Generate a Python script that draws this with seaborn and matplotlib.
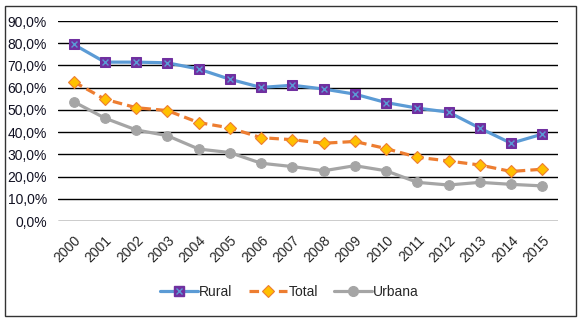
import numpy as np
import pandas as pd
import matplotlib
matplotlib.use("Agg")
import matplotlib.pyplot as plt
import seaborn as sns
from matplotlib.lines import Line2D
from matplotlib.legend_handler import HandlerTuple
from matplotlib.patches import Rectangle

years = [str(y) for y in range(2000, 2016)]
rural = [79.5, 71.5, 71.5, 71.2, 68.4, 63.8, 60.1, 61.1, 59.4, 57.1, 53.3, 50.8, 49.0, 41.8, 35.0, 39.1]
total = [62.7, 54.8, 51.0, 49.7, 44.3, 41.9, 37.5, 36.6, 35.0, 35.8, 32.6, 28.7, 27.0, 25.2, 22.3, 23.3]
urbana = [53.7, 46.3, 41.0, 38.4, 32.4, 30.8, 26.0, 24.5, 22.6, 24.9, 22.6, 17.4, 16.2, 17.4, 16.5, 15.8]

df = pd.DataFrame({"idx": np.arange(len(years)), "Rural": rural, "Total": total, "Urbana": urbana})

sns.set_style("white")
plt.rcParams["font.family"] = ["Liberation Sans", "DejaVu Sans"]

fig = plt.figure(figsize=(5.83, 3.21), dpi=100)
ax = fig.add_axes([0.0995, 0.3115, 0.8575, 0.623])

c_rural = "#5B9BD5"
c_total = "#ED7D31"
c_urb = "#A5A5A5"

sns.lineplot(data=df, x="idx", y="Rural", ax=ax, color=c_rural, lw=2.3,
             marker="s", markersize=6.5, markerfacecolor="#7030A0", markeredgecolor="#7030A0", zorder=5)
sns.scatterplot(data=df, x="idx", y="Rural", ax=ax, marker="x", s=18, color=c_rural,
                linewidth=1.0, zorder=6)
sns.lineplot(data=df, x="idx", y="Total", ax=ax, color=c_total, lw=2.3, linestyle=(0, (3, 1.6)),
             marker="D", markersize=6, markerfacecolor="#FFC000", markeredgecolor=c_total,
             markeredgewidth=0.8, zorder=4)
sns.lineplot(data=df, x="idx", y="Urbana", ax=ax, color=c_urb, lw=2.3,
             marker="o", markersize=7, markerfacecolor=c_urb, markeredgecolor=c_urb, zorder=3)

ax.set_xlim(-0.5, len(years) - 0.5)
ax.set_ylim(0, 90)
ax.set_yticks(np.arange(0, 91, 10))
ax.set_yticklabels([f"{v:.1f}%".replace(".", ",") for v in np.arange(0, 91, 10)], fontsize=10, color="#111122")
ax.set_xticks(df["idx"])
ax.set_xticklabels(years, rotation=45, ha="right", rotation_mode="anchor", fontsize=10)
ax.tick_params(axis="both", length=0)
ax.tick_params(axis="x", pad=9)
ax.tick_params(axis="y", pad=8)
ax.grid(axis="y", color="black", lw=1.0)
ax.set_axisbelow(True)
for s in ax.spines.values():
    s.set_visible(False)
ax.set_xlabel("")
ax.set_ylabel("")

h_rural = (Line2D([], [], color=c_rural, lw=2.3, marker="s", markersize=6.5,
                  markerfacecolor="#7030A0", markeredgecolor="#7030A0"),
           Line2D([], [], ls="none", marker="x", markersize=4, color=c_rural, markeredgewidth=1.0))
h_total = Line2D([], [], color=c_total, lw=2.3, linestyle=(0, (3, 1.6)), marker="D", markersize=6,
                 markerfacecolor="#FFC000", markeredgecolor=c_total, markeredgewidth=0.8)
h_urb = Line2D([], [], color=c_urb, lw=2.3, marker="o", markersize=7,
               markerfacecolor=c_urb, markeredgecolor=c_urb)
fig.legend([h_rural, h_total, h_urb], ["Rural", "Total", "Urbana"],
           handler_map={tuple: HandlerTuple(ndivide=1)},
           loc="center", bbox_to_anchor=(0.497, 0.09), ncol=3, frameon=False,
           fontsize=10, handlelength=2.7, handletextpad=0.1, columnspacing=1.2)

fig.patches.append(Rectangle((0.009, 0.017), 0.979, 0.965, transform=fig.transFigure,
                             fill=False, ec="#333333", lw=1.0))

fig.savefig("out.png", dpi=100)
